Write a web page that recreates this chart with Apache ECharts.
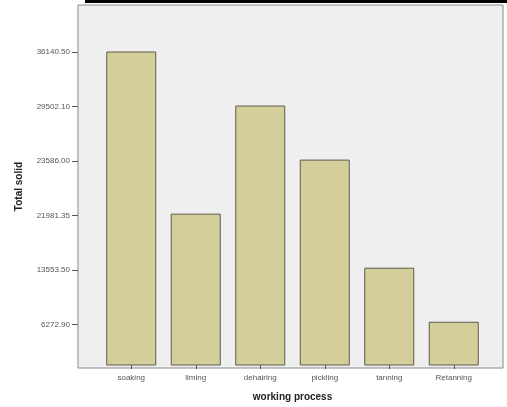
<!DOCTYPE html>
<html><head><meta charset="utf-8">
<script src="https://cdn.jsdelivr.net/npm/echarts@6/dist/echarts.min.js"></script>
<style>html,body{margin:0;padding:0;background:#fff}#c{width:507px;height:407px}</style>
</head><body><div id="c"></div>
<script>
var categories = ['soaking','liming','dehairing','pickling','tanning','Retanning'];
var totalSolid = [36140.50, 21981.35, 29502.10, 23586.00, 13553.50, 6272.90];
// Y tick labels as printed on the axis (bottom to top)
var tickLabels = ['6272.90','13553.50','21981.35','23586.00','29502.10','36140.50'];

// The reference's axis places each bar at the rank of its value among the tick labels
var tickValues = tickLabels.map(function(t){ return parseFloat(t); });
var rankData = totalSolid.map(function(v){ return tickValues.indexOf(v) + 1; });
var tickPos = tickLabels.map(function(t, i){ return i + 1; });

var chart = echarts.init(document.getElementById('c'), null, {renderer:'canvas'});
var font = 'Liberation Sans, Arial, sans-serif';
chart.setOption({
  animation: false,
  graphic: [{type:'rect', shape:{x:85,y:0,width:422,height:3}, style:{fill:'#000'}}],
  grid: [
    {left:78, right:4, top:5, bottom:39, show:true, backgroundColor:'#efefef', borderColor:'#8a8a8a', borderWidth:1},
    {left:99, right:21, top:5, bottom:39}
  ],
  xAxis: [
    {gridIndex:0, type:'value', show:false, min:0, max:1},
    {gridIndex:1, type:'category', data:categories,
     axisLine:{show:false},
     axisTick:{show:true, alignWithLabel:true, length:4, lineStyle:{color:'#555'}},
     axisLabel:{fontFamily:font, fontSize:8, color:'#555', margin:9},
     name:'working process', nameLocation:'middle', nameGap:27,
     nameTextStyle:{fontFamily:font, fontSize:10, fontWeight:'bold', color:'#222'}}
  ],
  yAxis: [
    {gridIndex:0, type:'value', min:0.2, max:6.86,
     axisLine:{show:false}, splitLine:{show:false},
     axisTick:{show:true, length:6, customValues:tickPos, lineStyle:{color:'#555'}},
     axisLabel:{fontFamily:font, fontSize:8, color:'#555', margin:8, customValues:tickPos,
       formatter:function(v){ return tickLabels[Math.round(v)-1] || ''; }},
     name:'Total solid', nameLocation:'middle', nameGap:54, nameRotate:90,
     nameTextStyle:{fontFamily:font, fontSize:10, fontWeight:'bold', color:'#222'}},
    {gridIndex:1, type:'value', min:0.2, max:6.86, show:false}
  ],
  series: [{
    type:'bar', xAxisIndex:1, yAxisIndex:1, data:rankData, barWidth:50,
    itemStyle:{color:'#d4cf9a', borderColor:'#5d5b4c', borderWidth:1}
  }]
});
</script></body></html>
